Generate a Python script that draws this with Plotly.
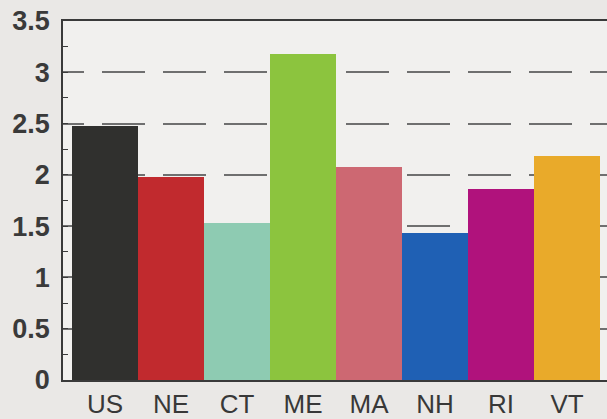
import plotly.graph_objects as go

# data
states = ["US", "NE", "CT", "ME", "MA", "NH", "RI", "VT"]
values = [2.48, 1.98, 1.53, 3.18, 2.08, 1.43, 1.86, 2.18]
colors = ["#30302e", "#c12a2e", "#8ecbb2", "#8cc43e", "#cd6872",
          "#1f60b4", "#b0127c", "#e9aa2a"]
y_ticks = [0, 0.5, 1, 1.5, 2, 2.5, 3, 3.5]
y_labels = ["0", "0.5", "1", "1.5", "2", "2.5", "3", "3.5"]

# dashes start part-way into a dash at the left axis
dash = ",".join(["21px", "18px"] + ["43px", "18px"] * 9)

fig = go.Figure()
fig.add_trace(go.Bar(
    x=states, y=values,
    marker=dict(color=colors, line=dict(width=0)),
    width=1,
    hoverinfo="x+y",
))

fig.update_layout(
    width=607, height=419,
    margin=dict(l=63, r=0, t=21, b=39),
    paper_bgcolor="#eae8e6",
    plot_bgcolor="#f1f0ee",
    bargap=0,
    showlegend=False,
    font=dict(family="Liberation Sans, Arial, sans-serif", color="#353535"),
    xaxis=dict(
        type="category",
        range=[-0.636, 7.606],
        automargin=False,
        showgrid=False,
        showline=True, linecolor="#3a3a3a", linewidth=2,
        mirror=True,
        ticks="",
        tickfont=dict(size=26, color="#383838"),
        ticklabelstandoff=0,
    ),
    yaxis=dict(
        range=[0, 3.5],
        automargin=False,
        tickvals=y_ticks, ticktext=y_labels,
        showgrid=True, gridcolor="#6f6f6f", gridwidth=1.5, griddash=dash,
        zeroline=False,
        showline=True, linecolor="#3a3a3a", linewidth=1.5,
        ticks="inside", ticklen=5, tickcolor="#3a3a3a", tickwidth=1,
        minor=dict(dtick=0.25, ticks="inside", ticklen=5,
                   tickcolor="#3a3a3a", tickwidth=1, showgrid=False),
        tickfont=dict(size=27, color="#3a3a3a", weight="bold"),
        ticklabelstandoff=6,
    ),
)

# page has a default body margin; drop it so the figure sits at 0,0
fig.write_html("out.html", config={"displayModeBar": False},
               post_script="document.body.style.margin='0';")
